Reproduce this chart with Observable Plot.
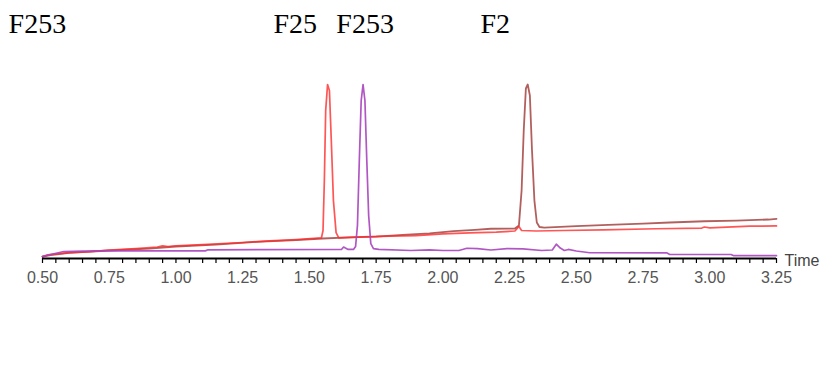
<!DOCTYPE html>
<html>
<head>
<meta charset="utf-8">
<script src="https://cdn.jsdelivr.net/npm/d3@7"></script>
<script src="https://cdn.jsdelivr.net/npm/@observablehq/plot@0.6"></script>
<style>
  html, body { margin: 0; padding: 0; background: #fff; }
  #chart { width: 828px; height: 371px; }
</style>
</head>
<body>
<div id="chart"></div>
<script>
// Peak labels (top)
const peakLabels = ["F253", "F25", "F253", "F2"];
const peakLabelX = [0.373, 1.365, 1.601, 2.141];

// Axis tick labels
const majorTicks = [0.50, 0.75, 1.00, 1.25, 1.50, 1.75, 2.00, 2.25, 2.50, 2.75, 3.00, 3.25];
const minorTicks = d3.range(0.5, 3.2501, 0.05);

// Series: retention time / relative response
const redTime = [0.50,0.52,0.60,0.68,0.75,0.85,0.93,0.95,0.97,1.00,1.10,1.25,1.35,1.45,1.545,1.551,1.556,1.561,1.568,1.575,1.582,1.590,1.600,1.610,1.70,1.80,1.90,2.00,2.10,2.20,2.27,2.285,2.295,2.35,2.45,2.60,2.80,2.97,2.98,3.00,3.15,3.25];
const redValue = [1.1,2.1,3.4,4.0,4.9,5.7,6.6,7.3,6.9,7.2,8.0,9.2,10.1,10.9,11.8,16.1,44.8,85.1,100,96.6,67.8,33.3,14.9,11.8,12.4,12.9,13.2,14.1,14.7,15.2,15.8,18.4,16.1,15.8,16.1,16.4,17.1,17.5,18.1,17.6,18.6,18.7];

const brownTime = [0.50,0.53,0.60,0.75,0.90,1.00,1.15,1.30,1.45,1.55,1.65,1.75,1.85,1.95,2.04,2.12,2.18,2.27,2.285,2.295,2.303,2.311,2.318,2.326,2.334,2.343,2.352,2.362,2.38,2.50,2.62,2.75,2.85,2.98,3.10,3.22,3.25];
const brownValue = [1.1,2.0,3.2,4.6,5.7,6.9,8.0,9.5,10.6,11.5,12.1,12.6,13.6,14.4,15.7,16.4,17.1,17.2,19.0,39.1,73.6,97.7,100,93.7,62.1,33.3,20.7,18.1,17.8,18.6,19.3,20.1,20.7,21.4,21.8,22.4,22.8];

const purpleTime = [0.50,0.53,0.58,0.65,0.72,1.11,1.12,1.62,1.628,1.635,1.645,1.665,1.673,1.680,1.687,1.694,1.701,1.708,1.715,1.722,1.730,1.740,1.76,1.88,1.95,2.00,2.06,2.09,2.13,2.18,2.24,2.30,2.37,2.41,2.425,2.44,2.455,2.47,2.50,2.55,2.84,2.85,3.08,3.09,3.25];
const purpleValue = [1.1,2.3,4.0,4.2,4.4,4.4,5.0,5.2,6.6,6.0,5.2,5.2,6.9,19.0,56.3,90.8,100,90.8,56.3,24.7,8.6,5.7,5.2,4.6,4.9,4.6,4.6,5.9,5.7,4.9,5.7,5.5,4.6,4.9,8.2,6.0,4.6,5.2,4.3,3.3,3.2,2.3,2.3,1.6,1.6];

const toRows = (t, v) => t.map((x, i) => ({t: x, v: v[i]}));
const red = toRows(redTime, redValue);
const brown = toRows(brownTime, brownValue);
const purple = toRows(purpleTime, purpleValue);

const chart = Plot.plot({
  width: 828,
  height: 371,
  marginLeft: 42,
  marginRight: 52,
  marginTop: 84,
  marginBottom: 113,
  style: {fontFamily: "'Liberation Sans', Arial, sans-serif", background: "#fff"},
  x: {domain: [0.5, 3.25], label: null},
  y: {domain: [0, 100], axis: null},
  marks: [
    Plot.line(brown, {x: "t", y: "v", stroke: "#a94f4c", strokeWidth: 1.8, strokeOpacity: 0.9}),
    Plot.line(red, {x: "t", y: "v", stroke: "#ff2a2a", strokeWidth: 1.7, strokeOpacity: 0.8}),
    Plot.line(purple, {x: "t", y: "v", stroke: "#a945bd", strokeWidth: 1.7, strokeOpacity: 0.9}),
    Plot.axisX(minorTicks, {tickSize: 5, tickFormat: () => "", label: null, stroke: "#000", strokeWidth: 1.2}),
    Plot.axisX(majorTicks, {tickSize: 0, tickPadding: 13, label: null, tickFormat: d => d.toFixed(2), fontSize: 16, fill: "#555"}),
    Plot.ruleY([0], {stroke: "#000", strokeWidth: 2}),
    Plot.text(["Time"], {x: () => 3.25, y: () => 0, dx: 8, dy: 2, textAnchor: "start", fontSize: 16, fill: "#444"}),
    Plot.text(peakLabels, {x: (d, i) => peakLabelX[i], y: () => 135, text: d => d, textAnchor: "start", fontSize: 28, fill: "#000", fontFamily: "'Liberation Serif', serif"})
  ]
});
document.getElementById("chart").appendChild(chart);
</script>
</body>
</html>
